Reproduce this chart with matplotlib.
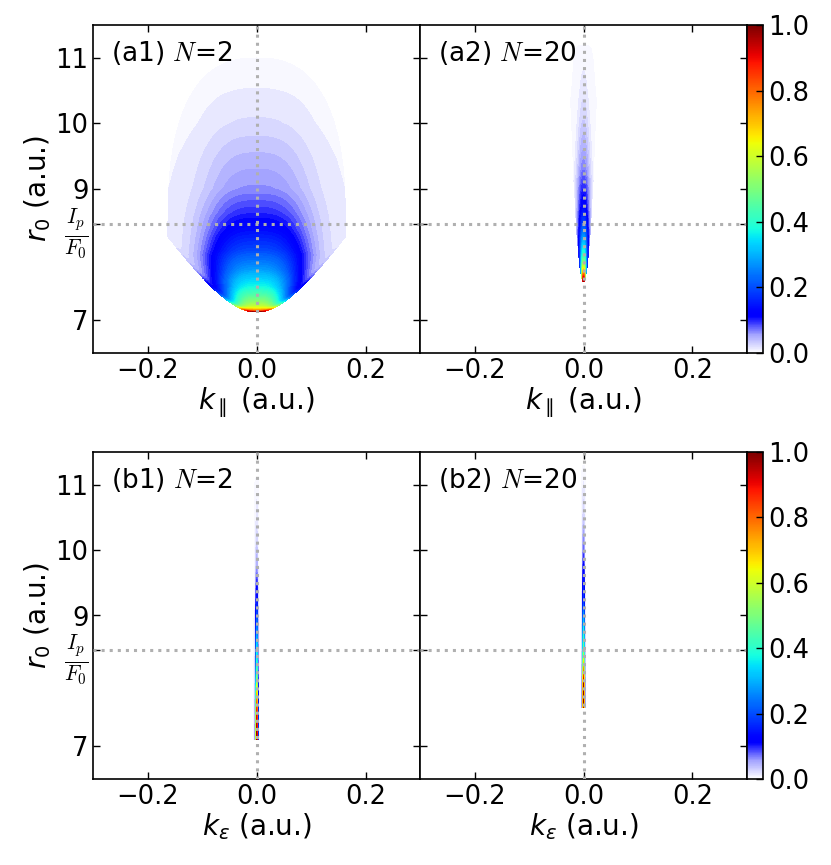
import numpy as np
import matplotlib
matplotlib.use('Agg')
import matplotlib.pyplot as plt
from matplotlib.colors import LinearSegmentedColormap, Normalize
from matplotlib.cm import ScalarMappable

# ---------------- axis / text data ----------------
x_ticks = [-0.2, 0.0, 0.2]
ip_over_f0 = 8.466
y_ticks = [7, ip_over_f0, 9, 10, 11]
y_tick_labels = ['7', r'$\frac{I_p}{F_0}$', '9', '10', '11']
cbar_ticks = [0.0, 0.2, 0.4, 0.6, 0.8, 1.0]
panel_labels = [r'(a1) $N$=2', r'(a2) $N$=20', r'(b1) $N$=2', r'(b2) $N$=20']
x_labels = [r'$k_\parallel$ (a.u.)', r'$k_\varepsilon$ (a.u.)']
y_label = r'$r_0$ (a.u.)'

# ---------------- profiles ----------------
# (a1) N=2, k_parallel : core amplitude along k=0, core half-width, halo level
r_a1 = [7.12, 7.16, 7.21, 7.30, 7.50, 7.76, 8.07, 8.37, 8.63, 9.00, 9.50, 10.0, 10.5, 11.0]
v_a1 = [0.72, 0.66, 0.58, 0.50, 0.37, 0.27, 0.18, 0.12, 0.082, 0.045, 0.028, 0.013, 0.005, 0.0]
w_r_a1 = [7.1, 7.3, 7.6, 8.0, 8.6, 9.5, 11.0]
w_v_a1 = [0.042, 0.056, 0.075, 0.09, 0.095, 0.093, 0.09]
h_r_a1 = [7.1, 7.6, 8.3, 9.0, 9.5, 10.0, 10.5, 11.0]
h_v_a1 = [0.025, 0.025, 0.023, 0.02, 0.016, 0.01, 0.006, 0.003]
# (a2) N=20, k_parallel
r_a2 = [7.585, 7.66, 7.72, 7.81, 7.90, 8.02, 8.22, 8.45, 8.73, 9.00, 9.29, 9.60, 10.05, 10.5, 11.0, 11.2]
v_a2 = [1.00, 0.90, 0.75, 0.62, 0.50, 0.40, 0.30, 0.20, 0.13, 0.10, 0.07, 0.05, 0.03, 0.016, 0.006, 0.0]
w_r_a2 = [7.6, 7.8, 8.0, 8.5, 9.0, 10.0, 11.2]
w_v_a2 = [0.0035, 0.0055, 0.007, 0.010, 0.012, 0.011, 0.008]
# (b1) N=2, k_eps
r_b1 = [7.10, 7.30, 7.56, 7.70, 7.86, 8.07, 8.30, 8.50, 8.68, 9.20, 9.75, 10.2, 10.5, 11.0, 11.1]
v_b1 = [1.00, 0.97, 0.88, 0.78, 0.66, 0.50, 0.40, 0.36, 0.30, 0.16, 0.05, 0.025, 0.015, 0.006, 0.0]
# (b2) N=20, k_eps
r_b2 = [7.59, 7.67, 7.97, 8.07, 8.17, 8.32, 8.48, 8.80, 9.20, 9.60, 10.0, 10.5, 11.0, 11.3]
v_b2 = [0.95, 1.00, 0.97, 0.87, 0.77, 0.64, 0.50, 0.38, 0.20, 0.14, 0.08, 0.03, 0.012, 0.0]

# ---------------- grid ----------------
k = np.linspace(-0.2, 0.2, 801)
r = np.linspace(6.5, 11.5, 1001)
K, R = np.meshgrid(k, r)


def lower_edge(Kg, r_tip, k0, b):
    return r_tip + b * (np.sqrt(1 + (Kg / k0) ** 2) - 1)


# (a1)
Hc = np.interp(R, r_a1, v_a1, left=0, right=0)
Wc = np.interp(R, w_r_a1, w_v_a1)
Hh = np.interp(R, h_r_a1, h_v_a1, left=0, right=0)
s = R - lower_edge(K, 7.12, 0.09, 1.075)
core = np.exp(-(np.abs(K) / Wc) ** 3)
E = 0.3 * np.exp(-np.clip(s, 0, None) / 0.025)
halo = Hh * (1 - 0.5 * (K / 0.163) ** 2)
Z1 = core * (Hc + E) + halo
outer = (np.abs(K) / 0.163) ** 2.5 + (np.clip(R - 8.5, 0, None) / 2.5) ** 2.5 <= 1
Z1 = np.where((s >= 0) & outer, Z1, np.nan)
Z1 = Z1 / np.nanmax(Z1)

# (a2)
H = np.interp(R, r_a2, v_a2, left=0, right=0)
W = np.interp(R, w_r_a2, w_v_a2)
s = R - (7.585 + 5000 * K ** 2)
Z2 = np.where(s >= 0, H * np.exp(-(K / W) ** 2), np.nan)
Z2 = Z2 / np.nanmax(Z2)

# (b1)
H = np.interp(R, r_b1, v_b1, left=0, right=0)
Z3 = np.where(R >= 7.1, H * np.exp(-(K / 0.0018) ** 2), np.nan)
Z3 = Z3 / np.nanmax(Z3)

# (b2)
H = np.interp(R, r_b2, v_b2, left=0, right=0)
Z4 = np.where(R >= 7.59, H * np.exp(-(K / 0.0016) ** 2), np.nan)
Z4 = Z4 / np.nanmax(Z4)

fields = [Z1, Z2, Z3, Z4]
for Z in fields:
    Z[Z <= 1e-4] = np.nan

# ---------------- colormap: white -> blue, then jet ----------------
jet = plt.get_cmap('jet')
nodes = [(0.0, (1, 1, 1)), (0.055, (0.64, 0.64, 1.0))]
for t in np.linspace(0.11, 1.0, 80):
    nodes.append((t, jet(t)[:3]))
cmap = LinearSegmentedColormap.from_list('wjet', nodes, N=512)
norm = Normalize(0, 1)
levels = np.linspace(0, 1, 101)

# ---------------- figure ----------------
plt.rcParams['font.family'] = ['DejaVu Sans']
FS = 18.5
LFS = 20
Wpx, Hpx = 831, 865
fig = plt.figure(figsize=(Wpx / 100, Hpx / 100), dpi=100)


def fr(x0, y_top, w, h):
    return [x0 / Wpx, (Hpx - y_top - h) / Hpx, w / Wpx, h / Hpx]


AW = 326.8
X0 = 93.3
rows = [(25, 328), (452, 327)]
axes = []
for ri, (ytop, hh) in enumerate(rows):
    for ci in range(2):
        ax = fig.add_axes(fr(X0 + ci * AW, ytop, AW, hh))
        axes.append(ax)
    cax = fig.add_axes(fr(X0 + 2 * AW, ytop, 16.5, hh))
    cb = fig.colorbar(ScalarMappable(norm=norm, cmap=cmap), cax=cax, ticks=cbar_ticks)
    cb.ax.tick_params(direction='in', labelsize=FS, length=5, width=1)
    cb.ax.set_yticklabels(['%.1f' % t for t in cbar_ticks])
    cb.outline.set_linewidth(1.2)

for i, ax in enumerate(axes):
    ax.contourf(K, R, fields[i], levels=levels, cmap=cmap, norm=norm)
    ax.axvline(0, color='#b0b0b0', ls=':', lw=2.2, zorder=3)
    ax.axhline(ip_over_f0, color='#b0b0b0', ls=':', lw=2.2, zorder=3)
    ax.set_xlim(-0.3, 0.3)
    ax.set_ylim(6.5, 11.5)
    ax.set_xticks(x_ticks)
    ax.set_xticklabels(['\u22120.2', '0.0', '0.2'])
    ax.set_yticks(y_ticks)
    ax.tick_params(direction='in', top=True, right=True, labelsize=FS,
                   length=5, width=1)
    for sp in ax.spines.values():
        sp.set_linewidth(1.2)
    if i % 2 == 0:
        labs = ax.set_yticklabels(y_tick_labels)
        for t in labs:
            t.set_math_fontfamily('cm')
        labs[1].set_fontsize(22)
        ax.set_ylabel(y_label, fontsize=LFS, labelpad=2)
    else:
        ax.set_yticklabels([])
    ax.set_xlabel(x_labels[i // 2], fontsize=LFS, labelpad=1)
    ax.text(0.055, 0.915, panel_labels[i], transform=ax.transAxes, fontsize=19,
            ha='left', va='center', math_fontfamily='cm', zorder=4)

fig.savefig('out.png', dpi=100)
